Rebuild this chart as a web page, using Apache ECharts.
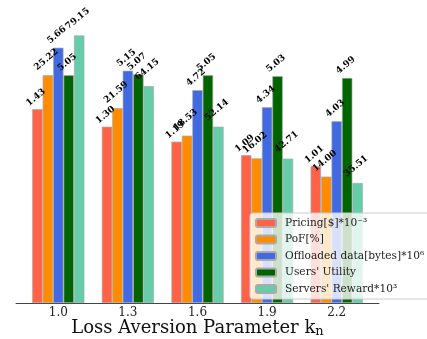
<!DOCTYPE html>
<html>
<head>
<meta charset="utf-8">
<script src="https://cdn.jsdelivr.net/npm/echarts@6/dist/echarts.min.js"></script>
<style>
html,body{margin:0;padding:0;background:#fff;}
#chart{width:427px;height:339px;}
</style>
</head>
<body>
<div id="chart"></div>
<script>
const categories = ['1.0', '1.3', '1.6', '1.9', '2.2'];
const seriesNames = ['Pricing[$]*10\u207B\u00B3', 'PoF[%]', 'Offloaded data[bytes]*10\u2076', "Users' Utility", "Servers' Reward*10\u00B3"];
const pricing = [1.43, 1.30, 1.19, 1.09, 1.01];
const pof = [25.22, 21.59, 18.53, 16.02, 14.00];
const offloaded = [5.66, 5.15, 4.72, 4.34, 4.03];
const utility = [5.05, 5.07, 5.05, 5.03, 4.99];
const reward = [79.15, 64.15, 52.14, 42.71, 35.51];

const colors = ['#FF6347', '#FF8C00', '#4169E1', '#006400', '#66CDAA'];
const axisMax = [2.087, 31.34, 6.275, 6.275, 83.73];
const labelDist = [13, 17, 14, 14, 18];
const allData = [pricing, pof, offloaded, utility, reward];

const serif = 'DejaVu Serif';
const chart = echarts.init(document.getElementById('chart'));

const yAxes = axisMax.map((m) => ({
  type: 'value', gridIndex: 0, min: 0, max: m, show: false
}));
yAxes.push({ type: 'value', gridIndex: 1, min: 0, max: 1, show: false });

const series = allData.map((d, i) => ({
  name: seriesNames[i],
  type: 'bar',
  xAxisIndex: 0,
  yAxisIndex: i,
  data: d,
  barGap: '0%',
  barCategoryGap: '25%',
  itemStyle: { color: colors[i], borderColor: '#aaaaaa', borderWidth: 0.7 },
  label: {
    show: true,
    position: 'top',
    distance: labelDist[i],
    rotate: 40,
    align: 'center',
    verticalAlign: 'middle',
    offset: [-2, 0],
    formatter: (p) => p.value.toFixed(2),
    fontFamily: serif,
    fontWeight: 'bold',
    fontSize: 9,
    color: '#000'
  }
}));

chart.setOption({
  animation: false,
  backgroundColor: '#fff',
  grid: [
    { left: 23.5, right: 55.5, top: 20, bottom: 36, outerBoundsMode: 'none', containLabel: false },
    { left: 16, right: 48, top: 20, bottom: 36, outerBoundsMode: 'none', containLabel: false }
  ],
  xAxis: [
    {
      type: 'category', gridIndex: 0, data: categories,
      axisLine: { show: false }, axisTick: { show: false },
      axisLabel: { fontFamily: serif, fontSize: 12, color: '#222', margin: 4 },
      name: 'Loss Aversion Parameter k{sub|n}',
      nameLocation: 'middle',
      nameGap: 15,
      nameMoveOverlap: false,
      nameTextStyle: {
        fontFamily: serif, fontSize: 18, color: '#111', lineHeight: 20,
        rich: { sub: { fontFamily: serif, fontSize: 13, color: '#111', lineHeight: 6, verticalAlign: 'bottom' } }
      }
    },
    {
      type: 'value', gridIndex: 1, min: 0, max: 1,
      axisLine: { show: true, onZero: false, lineStyle: { color: '#444', width: 1 } },
      axisTick: { show: false }, axisLabel: { show: false }, splitLine: { show: false }
    }
  ],
  yAxis: yAxes,
  legend: {
    orient: 'vertical',
    left: 250,
    top: 213,
    padding: [2, 10, 2, 5],
    itemWidth: 20,
    itemHeight: 8,
    itemGap: 0.5,
    backgroundColor: 'rgba(255,255,255,0.8)',
    borderColor: '#cccccc',
    borderWidth: 1,
    borderRadius: 3,
    textStyle: { fontFamily: serif, fontSize: 10.6, color: '#222', lineHeight: 16, padding: [0, 0, 0, 4] },
    data: seriesNames
  },
  series: series
});
</script>
</body>
</html>
